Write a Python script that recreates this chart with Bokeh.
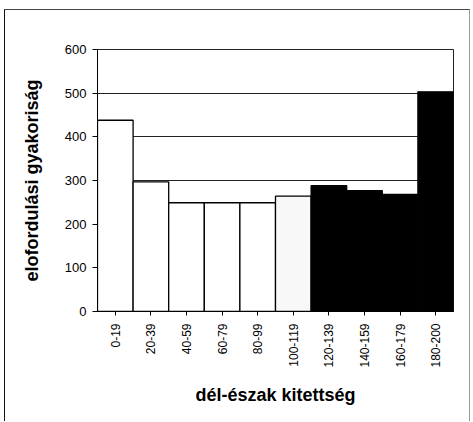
from bokeh.plotting import figure
from bokeh.models import ColumnDataSource, FixedTicker, Range1d
from bokeh.embed import file_html
from bokeh.resources import INLINE

categories = ["0-19", "20-39", "40-59", "60-79", "80-99", "100-119",
              "120-139", "140-159", "160-179", "180-200"]
values = [438, 297, 249, 249, 249, 264, 288, 277, 268, 503]
y_ticks = [0, 100, 200, 300, 400, 500, 600]

fills = ["#ffffff", "#ffffff", "#ffffff", "#ffffff", "#ffffff", "#f8f8f8",
         "#000000", "#000000", "#000000", "#000000"]

src = ColumnDataSource(dict(cat=categories, val=values, fill=fills))

p = figure(x_range=categories, y_range=Range1d(0, 600), width=466, height=412,
           output_backend="svg", toolbar_location=None,
           min_border_left=92, min_border_right=18, min_border_top=39,
           min_border_bottom=111)
p.styles = {"margin-left": "4px", "margin-top": "9px",
            "border-left": "1px solid #111", "border-top": "1px solid #444",
            "border-right": "1px solid #999"}

p.vbar(x="cat", top="val", width=1.0, source=src, fill_color="fill",
       line_color="black", line_width=1.3)

p.xgrid.grid_line_color = None
p.ygrid.grid_line_color = "#222222"
p.ygrid.grid_line_width = 1.2
p.ygrid.level = "underlay"
p.outline_line_color = "#222222"
p.outline_line_width = 1

p.yaxis.ticker = FixedTicker(ticks=y_ticks)
p.yaxis.minor_tick_line_color = None
p.yaxis.major_tick_out = 5
p.yaxis.major_tick_in = 0
p.yaxis.axis_line_color = "black"
p.yaxis.major_label_text_font = "Liberation Sans"
p.yaxis.major_label_text_font_size = "13px"
p.yaxis.major_label_text_color = "black"
p.yaxis.major_label_standoff = 6
p.yaxis.axis_label = "elofordulási gyakoriság"
p.yaxis.axis_label_text_font = "Liberation Sans"
p.yaxis.axis_label_text_font_style = "bold"
p.yaxis.axis_label_text_font_size = "18px"
p.yaxis.axis_label_text_color = "black"
p.yaxis.axis_label_standoff = 20

p.xaxis.major_label_orientation = 1.5708
p.xaxis.major_tick_out = 4
p.xaxis.major_tick_in = 0
p.xaxis.axis_line_color = "black"
p.xaxis.major_label_text_font = "Liberation Sans"
p.xaxis.major_label_text_font_size = "12px"
p.xaxis.major_label_text_color = "black"
p.xaxis.major_label_standoff = 8
p.xaxis.axis_label = "dél-észak kitettség"
p.xaxis.axis_label_text_font = "Liberation Sans"
p.xaxis.axis_label_text_font_style = "bold"
p.xaxis.axis_label_text_font_size = "18px"
p.xaxis.axis_label_text_color = "black"
p.xaxis.axis_label_standoff = 14

open("out.html", "w").write(file_html(p, INLINE))
